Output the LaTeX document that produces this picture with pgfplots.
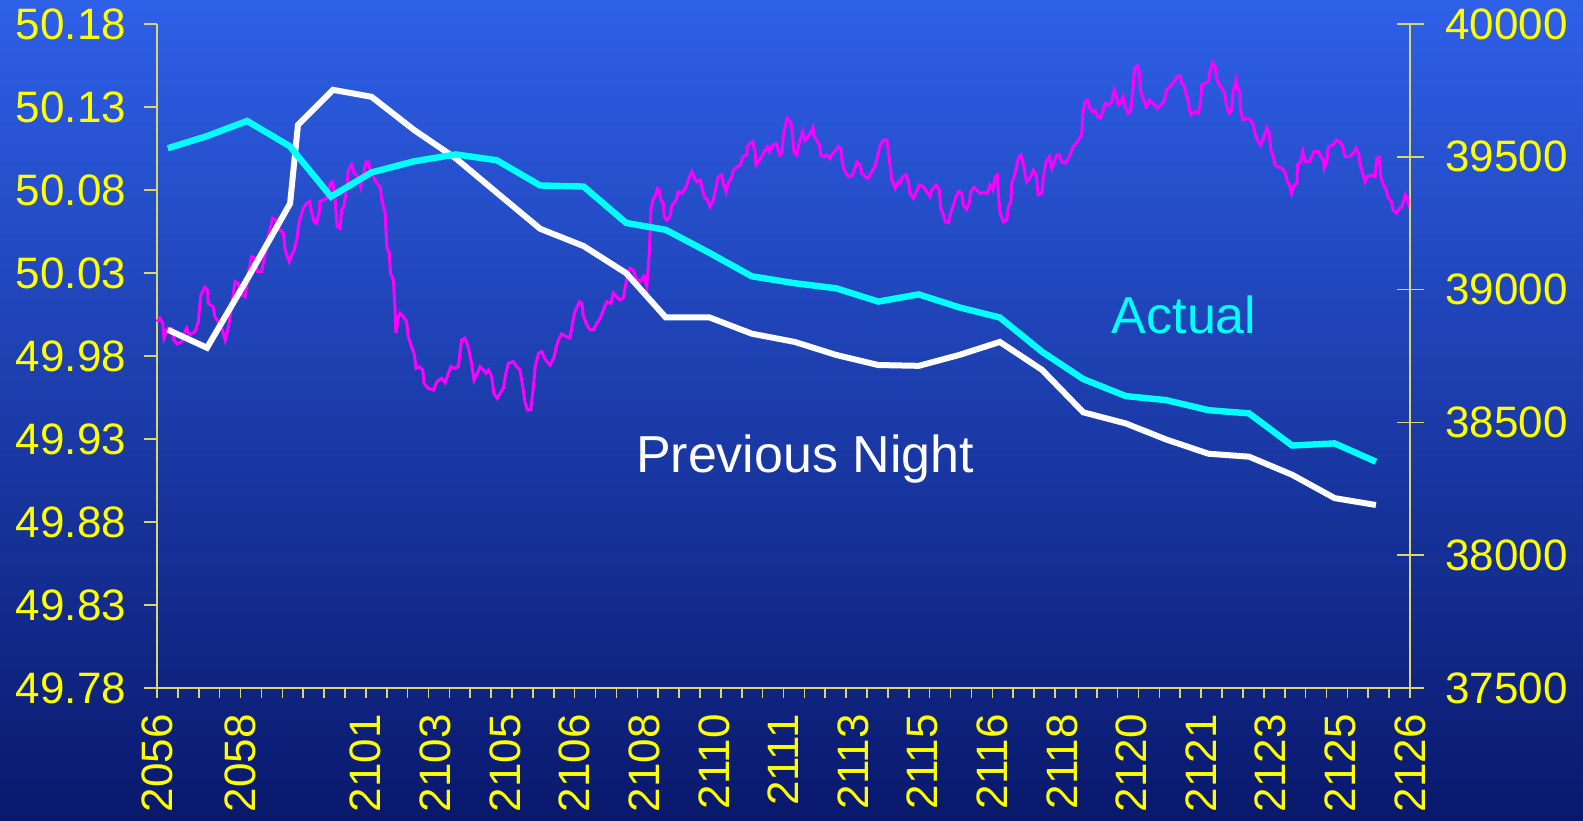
\documentclass[border=0pt]{standalone}
\usepackage{pgfplots}
\usepackage{pgfplotstable}
\pgfplotsset{compat=1.18}
\usepackage{fontspec}
\setmainfont{Liberation Sans}
\definecolor{bgtop}{RGB}{46,96,232}
\definecolor{bgmid}{RGB}{34,66,190}
\definecolor{bgbot}{RGB}{9,24,108}
\definecolor{axcol}{RGB}{215,215,110}
\definecolor{tickyellow}{RGB}{255,255,0}
\definecolor{mag}{RGB}{255,0,255}
\definecolor{cy}{RGB}{0,255,255}

% x unit: 1 unit = 1/1.010484 minute after 20:56 (axis spans 0..30.3145 = 30 min)
\pgfplotstableread{
t f
0 50.0007
0.07 50.0027
0.14 49.9997
0.17 49.9907
0.27 49.9967
0.36 49.9967
0.41 49.9896
0.49 49.9872
0.60 49.9886
0.64 49.9927
0.72 49.9967
0.78 49.9927
0.92 49.9946
1.00 50.0007
1.06 50.0167
1.16 50.0214
1.22 50.0198
1.24 50.0117
1.36 50.0097
1.40 50.0037
1.48 50.0007
1.57 49.9967
1.65 49.9896
1.73 49.9977
1.81 50.0107
1.89 50.0248
1.97 50.0238
2.01 50.0178
2.13 50.0157
2.21 50.0298
2.29 50.0398
2.37 50.0389
2.43 50.0308
2.53 50.0308
2.61 50.0408
2.69 50.0519
2.80 50.0630
2.88 50.0619
2.94 50.0569
3.06 50.0539
3.10 50.0439
3.20 50.0368
3.26 50.0408
3.32 50.0439
3.38 50.0499
3.44 50.0609
3.54 50.0690
3.62 50.0720
3.69 50.0730
3.74 50.0669
3.80 50.0609
3.86 50.0599
3.93 50.0669
3.94 50.0730
4.02 50.0740
4.11 50.0750
4.19 50.0840
4.25 50.0850
4.31 50.0740
4.36 50.0579
4.43 50.0569
4.47 50.0680
4.52 50.0699
4.59 50.0820
4.63 50.0920
4.71 50.0951
4.77 50.0901
4.87 50.0880
4.93 50.0820
4.99 50.0890
5.06 50.0970
5.11 50.0970
5.15 50.0931
5.23 50.0880
5.32 50.0840
5.40 50.0820
5.44 50.0740
5.52 50.0660
5.56 50.0458
5.62 50.0419
5.65 50.0298
5.72 50.0258
5.76 50.0077
5.78 49.9937
5.84 50.0037
5.88 50.0057
5.96 50.0037
6.04 50.0007
6.08 49.9916
6.16 49.9856
6.22 49.9816
6.27 49.9726
6.35 49.9736
6.43 49.9716
6.46 49.9636
6.56 49.9605
6.69 49.9595
6.77 49.9645
6.89 49.9666
6.97 49.9639
7.05 49.9696
7.11 49.9736
7.21 49.9726
7.29 49.9736
7.37 49.9896
7.45 49.9907
7.53 49.9856
7.61 49.9756
7.67 49.9655
7.75 49.9696
7.82 49.9736
7.90 49.9716
7.96 49.9696
8.02 49.9716
8.10 49.9675
8.15 49.9575
8.23 49.9545
8.30 49.9575
8.38 49.9605
8.44 49.9696
8.50 49.9756
8.62 49.9766
8.70 49.9736
8.78 49.9716
8.85 49.9615
8.90 49.9525
8.96 49.9475
9.04 49.9475
9.09 49.9575
9.15 49.9736
9.23 49.9816
9.31 49.9826
9.36 49.9796
9.43 49.9766
9.51 49.9746
9.61 49.9796
9.65 49.9846
9.71 49.9896
9.79 49.9933
9.91 49.9916
9.99 49.9907
10.06 50.0007
10.11 50.0067
10.22 50.0127
10.28 50.0117
10.31 50.0047
10.40 49.9987
10.48 49.9957
10.56 49.9957
10.64 49.9997
10.72 50.0027
10.80 50.0077
10.88 50.0127
10.98 50.0117
11.04 50.0178
11.12 50.0157
11.20 50.0137
11.28 50.0148
11.36 50.0258
11.44 50.0328
11.52 50.0318
11.61 50.0258
11.69 50.0248
11.77 50.0278
11.85 50.0218
11.91 50.0419
11.95 50.0680
12.01 50.0750
12.05 50.0760
12.11 50.0810
12.15 50.0800
12.19 50.0740
12.25 50.0720
12.27 50.0639
12.33 50.0619
12.41 50.0639
12.45 50.0699
12.56 50.0740
12.61 50.0790
12.70 50.0780
12.78 50.0810
12.83 50.0840
12.88 50.0880
12.94 50.0910
12.99 50.0880
13.06 50.0850
13.14 50.0860
13.18 50.0820
13.24 50.0760
13.32 50.0740
13.38 50.0699
13.46 50.0740
13.50 50.0790
13.58 50.0880
13.66 50.0890
13.70 50.0840
13.77 50.0790
13.82 50.0840
13.91 50.0880
13.94 50.0920
14.04 50.0940
14.12 50.0951
14.17 50.1001
14.27 50.1011
14.28 50.1061
14.35 50.1081
14.41 50.1091
14.47 50.1031
14.49 50.0951
14.55 50.0970
14.63 50.1001
14.69 50.1031
14.77 50.1061
14.82 50.1031
14.90 50.1071
14.99 50.1081
15.06 50.1011
15.12 50.1021
15.15 50.1121
15.24 50.1232
15.30 50.1222
15.36 50.1181
15.41 50.1031
15.48 50.1011
15.54 50.1081
15.62 50.1151
15.68 50.1101
15.76 50.1121
15.87 50.1178
15.90 50.1121
15.96 50.1101
16.03 50.1071
16.06 50.1011
16.14 50.1001
16.20 50.1011
16.28 50.0991
16.35 50.1021
16.43 50.1041
16.48 50.1061
16.54 50.1051
16.59 50.0951
16.65 50.0910
16.73 50.0880
16.81 50.0884
16.86 50.0910
16.93 50.0970
17.01 50.0951
17.05 50.0901
17.13 50.0880
17.21 50.0870
17.29 50.0910
17.37 50.0940
17.41 50.0981
17.49 50.1061
17.57 50.1101
17.66 50.1101
17.72 50.0981
17.78 50.0860
17.86 50.0810
17.94 50.0850
17.98 50.0840
18.04 50.0880
18.12 50.0890
18.18 50.0850
18.22 50.0780
18.30 50.0750
18.36 50.0780
18.44 50.0830
18.54 50.0820
18.62 50.0790
18.70 50.0760
18.74 50.0800
18.85 50.0830
18.93 50.0800
18.96 50.0690
19.03 50.0649
19.07 50.0609
19.15 50.0603
19.20 50.0660
19.27 50.0710
19.33 50.0760
19.39 50.0790
19.47 50.0780
19.51 50.0710
19.59 50.0684
19.65 50.0720
19.69 50.0790
19.77 50.0816
19.83 50.0800
19.91 50.0780
20.01 50.0784
20.09 50.0780
20.15 50.0830
20.22 50.0800
20.28 50.0880
20.33 50.0890
20.36 50.0760
20.40 50.0660
20.48 50.0609
20.56 50.0619
20.60 50.0699
20.66 50.0730
20.68 50.0840
20.76 50.0901
20.84 50.0991
20.90 50.1011
20.95 50.0970
21.00 50.0901
21.04 50.0850
21.12 50.0870
21.20 50.0920
21.27 50.0890
21.30 50.0820
21.32 50.0770
21.41 50.0780
21.44 50.0870
21.51 50.0970
21.59 50.1001
21.65 50.0931
21.70 50.0961
21.77 50.1011
21.83 50.1011
21.89 50.0970
21.97 50.0961
22.03 50.0981
22.09 50.1011
22.16 50.1061
22.24 50.1081
22.29 50.1101
22.37 50.1131
22.40 50.1262
22.45 50.1332
22.51 50.1342
22.56 50.1302
22.62 50.1272
22.70 50.1278
22.75 50.1242
22.83 50.1232
22.88 50.1272
22.94 50.1322
23.02 50.1312
23.10 50.1332
23.16 50.1402
23.20 50.1372
23.26 50.1312
23.32 50.1332
23.37 50.1362
23.42 50.1302
23.50 50.1262
23.56 50.1282
23.61 50.1402
23.65 50.1533
23.72 50.1547
23.77 50.1503
23.80 50.1392
23.86 50.1352
23.93 50.1302
24.01 50.1342
24.09 50.1322
24.15 50.1312
24.20 50.1292
24.29 50.1312
24.36 50.1332
24.43 50.1402
24.51 50.1422
24.61 50.1452
24.67 50.1483
24.75 50.1487
24.79 50.1443
24.85 50.1433
24.90 50.1372
24.95 50.1342
24.98 50.1282
25.03 50.1252
25.11 50.1272
25.19 50.1262
25.24 50.1312
25.28 50.1433
25.36 50.1443
25.44 50.1452
25.48 50.1523
25.54 50.1567
25.60 50.1543
25.64 50.1473
25.70 50.1433
25.76 50.1413
25.82 50.1392
25.88 50.1302
25.94 50.1262
26.00 50.1282
26.04 50.1402
26.11 50.1463
26.14 50.1413
26.20 50.1392
26.22 50.1272
26.28 50.1222
26.37 50.1232
26.45 50.1222
26.51 50.1202
26.57 50.1131
26.65 50.1091
26.70 50.1071
26.77 50.1111
26.85 50.1172
26.91 50.1142
26.95 50.1041
27.01 50.0999
27.05 50.0951
27.13 50.0937
27.21 50.0931
27.29 50.0910
27.35 50.0850
27.41 50.0820
27.45 50.0780
27.51 50.0830
27.58 50.0840
27.59 50.0951
27.67 50.0970
27.72 50.1031
27.78 50.0970
27.88 50.0970
27.94 50.1001
27.99 50.1031
28.10 50.1031
28.16 50.1001
28.22 50.0981
28.24 50.0931
28.30 50.0970
28.34 50.1061
28.45 50.1071
28.54 50.1101
28.62 50.1091
28.69 50.1061
28.74 50.1001
28.85 50.1001
28.95 50.1021
29.01 50.1051
29.07 50.1021
29.11 50.0951
29.17 50.0901
29.23 50.0850
29.28 50.0880
29.39 50.0890
29.47 50.0880
29.51 50.0991
29.57 50.0997
29.61 50.0880
29.66 50.0840
29.74 50.0800
29.79 50.0750
29.87 50.0730
29.90 50.0680
29.99 50.0660
30.06 50.0690
30.12 50.0700
30.20 50.0772
30.25 50.0748
30.31 50.0690
}\freqtable

\pgfplotstableread{
t mw
0.26 39532
1.21 39578
2.18 39635
3.21 39540
4.21 39350
5.19 39441
6.22 39483
7.23 39509
8.22 39487
9.27 39392
10.32 39388
11.35 39251
12.31 39225
13.37 39138
14.39 39050
15.43 39024
16.43 39005
17.45 38955
18.43 38982
19.41 38933
20.39 38895
21.41 38766
22.41 38663
23.44 38599
24.41 38584
25.44 38546
26.42 38534
27.46 38413
28.49 38421
29.49 38352
}\actualtable

\pgfplotstableread{
t mw
0.26 38849
1.21 38781
2.18 39039
3.22 39324
3.41 39620
4.26 39752
5.19 39726
6.22 39601
7.23 39494
8.22 39365
9.27 39229
10.32 39164
11.35 39062
12.31 38895
13.37 38895
14.39 38834
15.43 38803
16.43 38754
17.45 38716
18.43 38713
19.41 38754
20.39 38803
21.41 38698
22.41 38538
23.44 38496
24.41 38436
25.44 38382
26.42 38371
27.46 38303
28.49 38215
29.49 38189
}\prevtable

\begin{document}
\begin{tikzpicture}
\useasboundingbox (-78.5pt,-66pt) rectangle (713pt,344pt);
\shade[top color=bgtop, middle color=bgmid, bottom color=bgbot] (-78.5pt,-66pt) rectangle (713pt,344pt);
\begin{axis}[
  at={(0,0)}, anchor=south west,
  scale only axis, width=626.5pt, height=332pt,
  xmin=0, xmax=30.3145, ymin=49.78, ymax=50.18,
  axis x line*=bottom, axis y line*=left,
  axis line style={axcol, line width=0.8pt, -},
  every tick/.style={axcol, line width=0.8pt},
  tick align=outside,
  major tick length=6.5pt, minor tick length=5pt,
  xtick={0,2.021,5.0524,6.7366,8.4207,10.1048,11.789,13.4731,15.1573,16.8414,18.5256,20.2097,21.8938,23.578,25.2621,26.9463,28.6304,30.3145},
  xticklabels={2056,2058,2101,2103,2105,2106,2108,2110,2111,2113,2115,2116,2118,2120,2121,2123,2125,2126},
  minor xtick={0,0.505242,...,30.33},
  major x tick style={draw=none},
  xticklabel style={rotate=90, anchor=east, inner sep=0pt, xshift=-6.5pt, font=\fontsize{22}{22}\selectfont, text=tickyellow},
  ytick={49.78,49.83,49.88,49.93,49.98,50.03,50.08,50.13,50.18},
  yticklabel style={inner sep=0pt, xshift=-8.75pt, font=\fontsize{22}{22}\selectfont, text=tickyellow},
  /pgf/number format/fixed, /pgf/number format/fixed zerofill, /pgf/number format/precision=2,
  /pgf/number format/assume math mode=true,
  clip=false,
]
\addplot[mag, line width=1.5pt] table[x=t, y=f] {\freqtable};
\node[text=white, font=\fontsize{26}{26}\selectfont] at (axis cs:15.68,49.918) {Previous Night};
\node[text=cy, font=\fontsize{26}{26}\selectfont] at (axis cs:24.85,50.0047) {Actual};
\end{axis}
\begin{axis}[
  at={(0,0)}, anchor=south west,
  scale only axis, width=626.5pt, height=332pt,
  xmin=0, xmax=30.3145, ymin=37500, ymax=40000,
  axis y line*=right, axis x line=none,
  axis line style={axcol, line width=0.8pt, -},
  every tick/.style={axcol, line width=0.8pt},
  tick align=center, major tick length=13.5pt,
  ytick={37500,38000,38500,39000,39500,40000},
  scaled y ticks=false,
  yticklabel style={inner sep=0pt, xshift=10.75pt, font=\fontsize{22}{22}\selectfont, text=tickyellow},
  /pgf/number format/fixed, /pgf/number format/1000 sep={},
  /pgf/number format/assume math mode=true,
]
\addplot[white, line width=3pt] table[x=t, y=mw] {\prevtable};
\addplot[cy, line width=3.2pt] table[x=t, y=mw] {\actualtable};
\end{axis}
\end{tikzpicture}
\end{document}
